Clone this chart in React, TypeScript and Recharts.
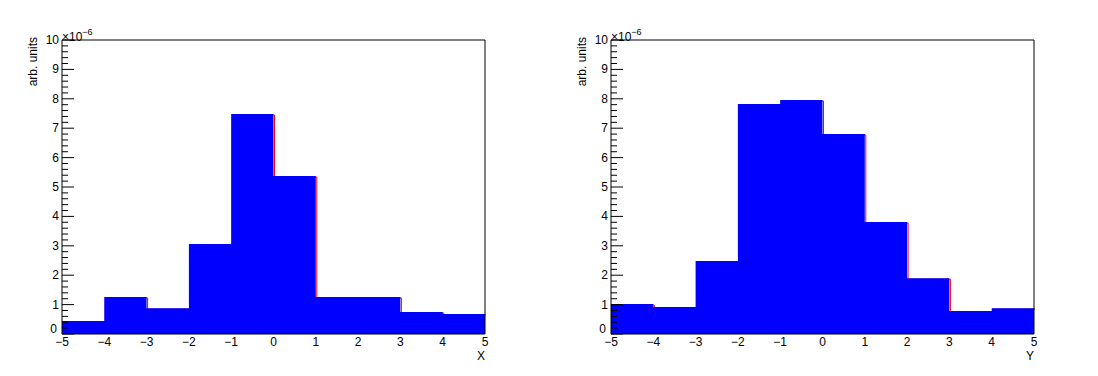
import { ComposedChart, Area, Line, XAxis, YAxis, ReferenceArea } from 'recharts';

// bin lower edges, last entry closes the final bin at 5
const binEdges = [-5, -4, -3, -2, -1, 0, 1, 2, 3, 4, 5];
const xValues = [0.44, 1.26, 0.88, 3.06, 7.48, 5.37, 1.26, 1.26, 0.75, 0.68];
const yValues = [1.02, 0.92, 2.48, 7.82, 7.96, 6.8, 3.81, 1.9, 0.78, 0.88];
const xTicks = [-5, -4, -3, -2, -1, 0, 1, 2, 3, 4, 5];
const yMajorTicks = [0, 1, 2, 3, 4, 5, 6, 7, 8, 9, 10];
const yTicks = Array.from({ length: 51 }, (_, i) => Math.round(i * 2) / 10);

const FONT = '"Liberation Sans", Arial, sans-serif';

function toSteps(values: number[]) {
  return binEdges.map((edge, i) => ({
    x: edge,
    v: values[Math.min(i, values.length - 1)],
  }));
}

const YTick = (props: any) => {
  const { x, y, payload } = props;
  const v = payload.value;
  const major = yMajorTicks.includes(v);
  return (
    <g>
      <line x1={x} x2={x + (major ? 12 : 6)} y1={y} y2={y} stroke="#000" strokeWidth={1} />
      {major && (
        <text
          x={v === 0 ? x - 5 : x - 3}
          y={y}
          dy={v === 0 ? -1 : 4}
          textAnchor="end"
          fontSize={12}
          fontFamily={FONT}
          fill="#000"
        >
          {v}
        </text>
      )}
    </g>
  );
};

const fmtX = (v: number) => String(v).replace('-', '\u2212');

function Panel({ values, axisTitle, left }: { values: number[]; axisTitle: string; left: number }) {
  const data = toSteps(values);
  return (
    <div style={{ position: 'absolute', left, top: 0, width: 549, height: 376 }}>
      <ComposedChart
        width={549}
        height={376}
        data={data}
        margin={{ top: 40, right: 64, left: 0, bottom: 0 }}
      >
        <XAxis
          dataKey="x"
          type="number"
          domain={[-5, 5]}
          ticks={xTicks}
          tickFormatter={fmtX}
          tickLine={false}
          axisLine={false}
          height={42}
          tickSize={0}
          tickMargin={3}
          tick={{ fill: '#000', fontSize: 12, fontFamily: FONT }}
          allowDataOverflow
        />
        <YAxis
          type="number"
          domain={[0, 10]}
          ticks={yTicks}
          interval={0}
          width={62}
          tickSize={0}
          tickMargin={0}
          tickLine={false}
          axisLine={false}
          tick={<YTick />}
          allowDataOverflow
        />
        <Line
          dataKey="v"
          type="stepAfter"
          stroke="#ff0000"
          strokeWidth={1}
          dot={false}
          isAnimationActive={false}
          transform="translate(1,1)"
          zIndex={50}
        />
        <Area
          dataKey="v"
          type="stepAfter"
          stroke="none"
          fill="#0000ff"
          fillOpacity={1}
          baseValue={0}
          isAnimationActive={false}
          zIndex={600}
        />
        <ReferenceArea
          x1={-5}
          x2={5}
          y1={0}
          y2={10}
          fill="none"
          stroke="#000"
          strokeWidth={1}
          ifOverflow="visible"
          zIndex={700}
        />
      </ComposedChart>
      <div
        style={{
          position: 'absolute',
          left: 62,
          top: 27,
          fontFamily: FONT,
          fontSize: 12,
          color: '#000',
          lineHeight: '13px',
        }}
      >
        ×10<sup style={{ fontSize: 9, position: 'relative', top: -1 }}>−6</sup>
      </div>
      <div
        style={{
          position: 'absolute',
          left: 27,
          top: 37,
          fontFamily: FONT,
          fontSize: 12,
          color: '#000',
          whiteSpace: 'nowrap',
          transform: 'rotate(-90deg) translateX(-100%)',
          transformOrigin: '0 0',
          lineHeight: '13px',
        }}
      >
        arb. units
      </div>
      <div
        style={{
          position: 'absolute',
          right: 64,
          top: 350,
          fontFamily: FONT,
          fontSize: 12,
          color: '#000',
          lineHeight: '13px',
        }}
      >
        {axisTitle}
      </div>
    </div>
  );
}

export default function App() {
  return (
    <div
      style={{
        position: 'fixed',
        left: 0,
        top: 0,
        width: 1098,
        height: 376,
        background: '#fff',
      }}
    >
      <Panel values={xValues} axisTitle="X" left={0} />
      <Panel values={yValues} axisTitle="Y" left={549} />
    </div>
  );
}
